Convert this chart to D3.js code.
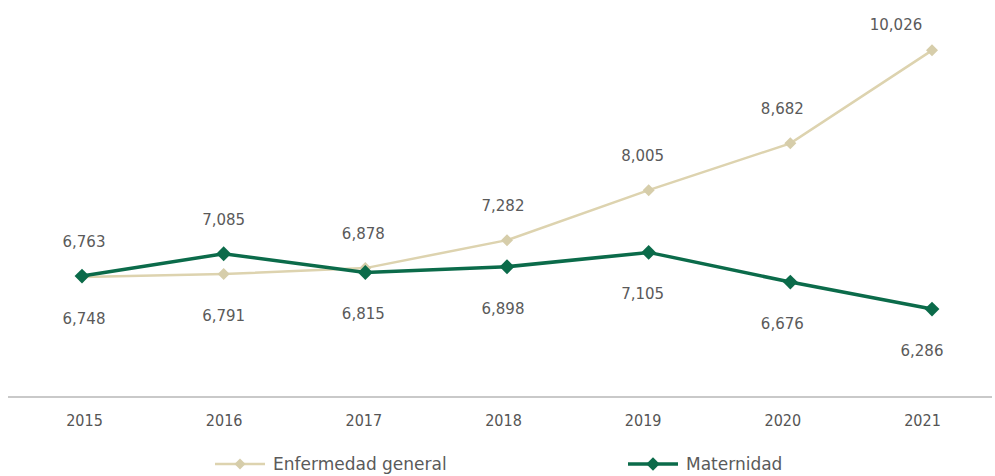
<!DOCTYPE html>
<html>
<head>
<meta charset="utf-8">
<script src="https://cdn.jsdelivr.net/npm/d3@7"></script>
<style>
  html, body { margin: 0; padding: 0; background: #fff; }
  svg { display: block; }
  text { font-family: "DejaVu Sans", sans-serif; fill: #5a5a5a; }
</style>
</head>
<body>
<svg id="chart" width="995" height="476"></svg>
<script>
// Years on the horizontal axis
const years = ["2015", "2016", "2017", "2018", "2019", "2020", "2021"];
// Series values
const enfermedadGeneral = [6748, 6791, 6878, 7282, 8005, 8682, 10026];
const maternidad = [6763, 7085, 6815, 6898, 7105, 6676, 6286];
const seriesNames = ["Enfermedad general", "Maternidad"];

const colors = { enf: "#ddd3af", enfMarker: "#d6cdaa", mat: "#0b6b4a" };

const svg = d3.select("#chart");

// Positions of the data points
const x = d3.scalePoint().domain(years).range([82, 932]);
// Positions of the year labels and value labels
const xLab = d3.scalePoint().domain(years).range([84, 922]);
const y = d3.scaleLinear().domain([5000, 11000]).range([398, -17]);

// Baseline axis
const axis = d3.axisBottom(xLab).tickSize(0).tickPadding(0);
const gAxis = svg.append("g").attr("transform", "translate(0,397)").call(axis);
gAxis.select(".domain").remove();
gAxis.append("line")
  .attr("x1", 8).attr("x2", 992).attr("y1", 0).attr("y2", 0)
  .attr("stroke", "#c9c9c9").attr("stroke-width", 2);
gAxis.selectAll(".tick text")
  .attr("y", 29)
  .attr("dy", 0)
  .style("font-family", "'DejaVu Sans Condensed', 'DejaVu Sans', sans-serif")
  .style("font-size", "16px")
  .style("fill", "#555");

const line = d3.line().x((d, i) => x(years[i])).y(d => y(d));

// Diamond marker: a square turned by 45 degrees
const diamond = d3.symbol().type(d3.symbolSquare);

// Enfermedad general line
svg.append("path")
  .datum(enfermedadGeneral)
  .attr("d", line)
  .attr("fill", "none")
  .attr("stroke", colors.enf)
  .attr("stroke-width", 2.5);

svg.append("g").selectAll("path")
  .data(enfermedadGeneral)
  .join("path")
  .attr("transform", (d, i) => `translate(${x(years[i])},${y(d)}) rotate(45)`)
  .attr("d", diamond.size(72))
  .attr("fill", colors.enfMarker);

// Maternidad line
svg.append("path")
  .datum(maternidad)
  .attr("d", line)
  .attr("fill", "none")
  .attr("stroke", colors.mat)
  .attr("stroke-width", 3.5);

svg.append("g").selectAll("path")
  .data(maternidad)
  .join("path")
  .attr("transform", (d, i) => `translate(${x(years[i])},${y(d)}) rotate(45)`)
  .attr("d", diamond.size(110))
  .attr("fill", colors.mat);

// Value labels: the higher series of each year is labelled above, the other below
const fmt = d3.format(",");
const last = years.length - 1;
function labels(values, other) {
  svg.append("g").selectAll("text")
    .data(values)
    .join("text")
    .attr("x", (d, i) => xLab(years[i]) + (d >= other[i] && i === last ? -26 : 0))
    .attr("y", (d, i) => {
      if (d >= other[i]) return y(d) - (i === last ? 20 : 29);
      return y(d) + 47;
    })
    .attr("text-anchor", "middle")
    .style("font-size", "15px")
    .text(d => fmt(d));
}
labels(enfermedadGeneral, maternidad);
labels(maternidad, enfermedadGeneral);

// Legend
const legend = [
  { name: seriesNames[0], color: colors.enf, marker: colors.enfMarker, x0: 215, size: 60, w: 2.5 },
  { name: seriesNames[1], color: colors.mat, marker: colors.mat, x0: 628, size: 90, w: 3.5 }
];
const lg = svg.append("g").attr("transform", "translate(0,464)");
legend.forEach(l => {
  lg.append("line")
    .attr("x1", l.x0).attr("x2", l.x0 + 50)
    .attr("stroke", l.color).attr("stroke-width", l.w);
  lg.append("path")
    .attr("transform", `translate(${l.x0 + 25},0) rotate(45)`)
    .attr("d", diamond.size(l.size)())
    .attr("fill", l.marker);
  lg.append("text")
    .attr("x", l.x0 + 58).attr("y", 6)
    .style("font-size", "17px")
    .text(l.name);
});
</script>
</body>
</html>
